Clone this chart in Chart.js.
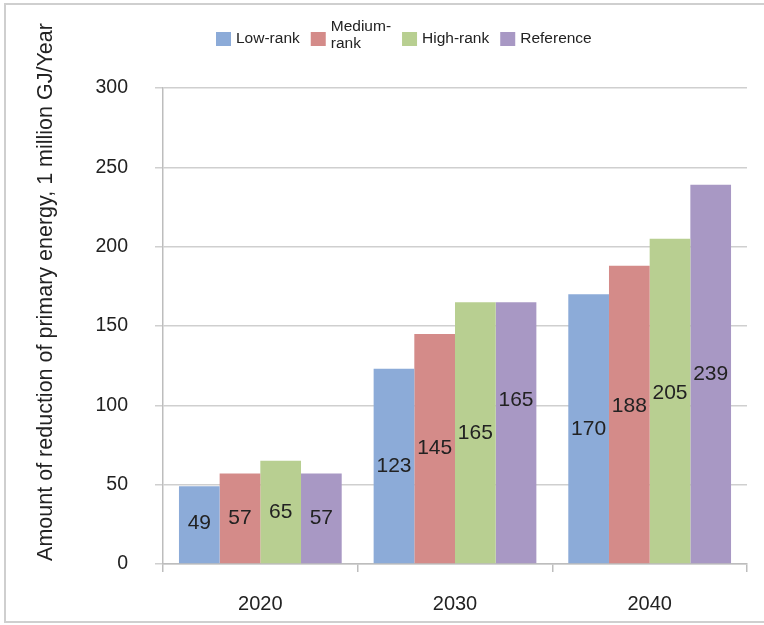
<!DOCTYPE html>
<html>
<head>
<meta charset="utf-8">
<title>Reduction of primary energy</title>
<script src="https://cdn.jsdelivr.net/npm/chart.js@4.4.1/dist/chart.umd.min.js"></script>
<style>
  html, body { margin: 0; padding: 0; background: #fff; }
  #wrap { position: relative; width: 764px; height: 625px; }
</style>
</head>
<body>
<div id="wrap"><canvas id="chart" width="764" height="625"></canvas></div>
<script>
var years = ['2020', '2030', '2040'];
var seriesNames = [['Low-rank'], ['Medium-', 'rank'], ['High-rank'], ['Reference']];
var lowRank = [49, 123, 170];
var mediumRank = [57, 145, 188];
var highRank = [65, 165, 205];
var reference = [57, 165, 239];
var yTicks = [0, 50, 100, 150, 200, 250, 300];
var yTitle = 'Amount of reduction of primary energy, 1 million GJ/Year';

(function () {
  'use strict';

  var fontFamily = '"Liberation Sans", Arial, sans-serif';
  var colors = ['#8cabd8', '#d48b89', '#b8cf91', '#a898c4'];
  var values = [lowRank, mediumRank, highRank, reference];

  // small hand nudges (px) for a few value labels, as in the original figure
  var labelNudge = { '3-1': -33, '1-2': -8, '2-2': -8, '0-0': -2 };

  var frame = {
    id: 'frame',
    beforeDraw: function (chart) {
      var ctx = chart.ctx;
      ctx.save();
      ctx.strokeStyle = '#cfcfcf';
      ctx.lineWidth = 2;
      ctx.strokeRect(5, 4, chart.width + 10, chart.height - 7);
      ctx.restore();
    }
  };

  var valueLabels = {
    id: 'valueLabels',
    afterDatasetsDraw: function (chart) {
      var ctx = chart.ctx;
      ctx.save();
      ctx.font = '21px ' + fontFamily;
      ctx.fillStyle = '#222';
      ctx.textAlign = 'center';
      ctx.textBaseline = 'middle';
      chart.data.datasets.forEach(function (ds, di) {
        chart.getDatasetMeta(di).data.forEach(function (bar, i) {
          var y = (bar.y + bar.base) / 2 + (labelNudge[di + '-' + i] || 0);
          ctx.fillText(String(ds.data[i]), bar.x, y);
        });
      });
      ctx.restore();
    }
  };

  var sideLegend = {
    id: 'sideLegend',
    afterDraw: function (chart) {
      var ctx = chart.ctx;
      var x = 216;
      var midY = 39;
      ctx.save();
      ctx.font = '15.5px ' + fontFamily;
      ctx.textBaseline = 'middle';
      ctx.textAlign = 'left';
      chart.data.datasets.forEach(function (ds, di) {
        var lines = seriesNames[di];
        ctx.fillStyle = colors[di];
        ctx.fillRect(x, 32, 15, 14);
        var tx = x + 20;
        var w = 0;
        ctx.fillStyle = '#222';
        lines.forEach(function (ln, li) {
          var ly = lines.length > 1 ? 27 + li * 17 : midY;
          ctx.fillText(ln, tx, ly);
          w = Math.max(w, ctx.measureText(ln).width);
        });
        x = tx + w + 11;
      });
      ctx.restore();
    }
  };

  var yAxisTitle = {
    id: 'yAxisTitle',
    afterDraw: function (chart) {
      var ctx = chart.ctx;
      ctx.save();
      ctx.translate(46, 292);
      ctx.rotate(-Math.PI / 2);
      ctx.font = '21.5px ' + fontFamily;
      ctx.fillStyle = '#222';
      ctx.textAlign = 'center';
      ctx.textBaseline = 'middle';
      ctx.fillText(yTitle, 0, 0);
      ctx.restore();
    }
  };

  var datasets = values.map(function (arr, i) {
    return {
      label: seriesNames[i].join(' '),
      data: arr,
      backgroundColor: colors[i],
      borderWidth: 0,
      categoryPercentage: 0.836,
      barPercentage: 1
    };
  });

  new Chart(document.getElementById('chart'), {
    type: 'bar',
    data: { labels: years, datasets: datasets },
    options: {
      responsive: false,
      animation: false,
      layout: { padding: { top: 88, left: 0, right: 17, bottom: 0 } },
      plugins: { legend: { display: false }, tooltip: { enabled: false } },
      scales: {
        x: {
          grid: { drawOnChartArea: false, drawTicks: true, tickLength: 8, color: '#bdbdbd', lineWidth: 1.5, offset: true },
          border: { color: '#bdbdbd', width: 1.5 },
          ticks: { font: { family: fontFamily, size: 20 }, color: '#222', padding: 20 },
          afterFit: function (s) { s.height = 61; }
        },
        y: {
          min: 0,
          max: 300,
          afterBuildTicks: function (s) { s.ticks = yTicks.map(function (v) { return { value: v }; }); },
          grid: { color: '#cfcfcf', lineWidth: 1.5, tickLength: 8 },
          border: { color: '#bdbdbd', width: 1.5 },
          ticks: { font: { family: fontFamily, size: 19.5 }, color: '#222', padding: 27 },
          afterFit: function (s) { s.width = 163; }
        }
      }
    },
    plugins: [frame, valueLabels, sideLegend, yAxisTitle]
  });
})();
</script>
</body>
</html>
